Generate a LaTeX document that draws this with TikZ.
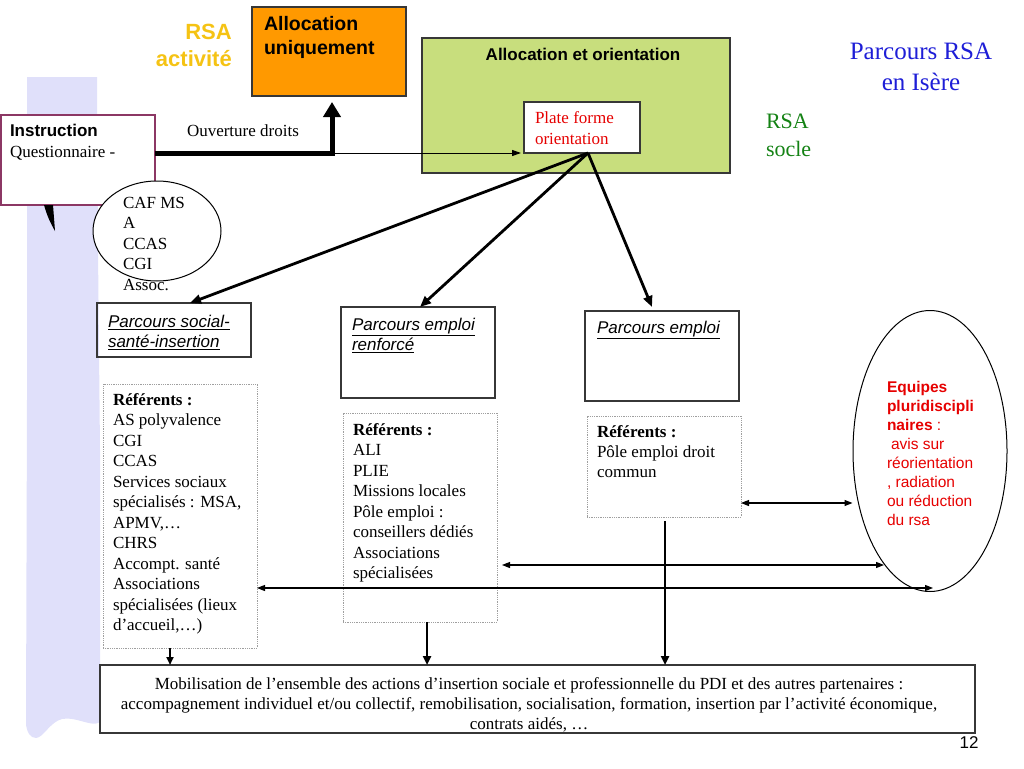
\documentclass[tikz,border=0pt]{standalone}
\usepackage{fontspec}
\setmainfont{Liberation Serif}
\newfontfamily\arial{Liberation Sans}
\usetikzlibrary{shapes.geometric,arrows.meta,calc}
\definecolor{lav}{RGB}{224,224,250}
\definecolor{instrc}{RGB}{140,55,100}
\definecolor{orangef}{RGB}{255,153,0}
\definecolor{greenf}{RGB}{200,222,125}
\definecolor{goldt}{RGB}{245,195,20}
\definecolor{greent}{RGB}{20,130,20}
\definecolor{bluet}{RGB}{30,30,215}
\definecolor{redt}{RGB}{230,0,0}
\definecolor{edge}{RGB}{55,55,55}
\newcommand\fsz[2]{\fontsize{#1}{#2}\selectfont}
\begin{document}
\begin{tikzpicture}[x=1pt,y=-1pt,
  box/.style={draw=edge, line width=1.2pt, inner sep=0pt, outer sep=0pt, anchor=north west},
  dotbox/.style={draw=gray!75, dash pattern=on 0.9pt off 0.9pt, line width=0.8pt, inner sep=0pt, outer sep=0pt, anchor=north west},
  txt/.style={inner sep=0pt, outer sep=0pt, anchor=north west, align=left},
  fat/.style={line width=2.8pt, -{Triangle[length=11pt,width=9pt]}},
  dbl/.style={line width=1.1pt, {Triangle[length=8pt,width=6pt]}-{Triangle[length=8pt,width=6pt]}}]
\useasboundingbox (0,0) rectangle (1024,768);
% lavender strip
\fill[lav] (27,77) -- (97,77) -- (98,250) -- (100,450) -- (100,722)
  .. controls (92,728) and (76,716) .. (62,719)
  .. controls (50,722) and (43,738) .. (36,738)
  .. controls (30,738) and (27,732) .. (26,725) -- (27,400) -- cycle;
% top boxes
\node[box, fill=orangef, minimum width=154pt, minimum height=89pt] (alloc) at (252,7) {};
\node[txt, font=\arial\bfseries\fsz{19.5}{24}] (alloct) at (264,16.5) {Allocation\\uniquement};
\node[box, fill=greenf, minimum width=308pt, minimum height=135pt] (green) at (422,38) {};
\node[inner sep=0pt, anchor=north, font=\arial\bfseries\fsz{17}{20}] (greent) at (583,48) {Allocation et orientation};
\node[box, fill=white, minimum width=116pt, minimum height=51pt] (plate) at (524,102) {};
\node[txt, text=redt, font=\fsz{17}{21}] (platet) at (535,112) {Plate forme\\orientation};
\node[inner sep=0pt, anchor=north east, align=right, text=goldt, font=\arial\bfseries\fsz{22}{27}] (rsaact) at (232,24) {RSA\\activité};
\node[txt, text=greent, font=\fsz{22}{28}] (rsasocle) at (766,114) {RSA\\socle};
\node[inner sep=0pt, anchor=north, align=center, text=bluet, font=\fsz{25}{31}] (title) at (921,43) {Parcours RSA\\en Isère};
% instruction
\node[box, draw=instrc, line width=2pt, fill=white, minimum width=154pt, minimum height=90pt] (instr) at (1,115) {};
\fill[black] (44,205) .. controls (47,216) and (51,224) .. (55,231) -- (53,205) -- cycle;
\node[txt, font=\fsz{17}{21}] (instrt) at (10,124.5) {{\arial\bfseries Instruction}\\Questionnaire -};
\node[txt, font=\fsz{17}{20}] (ouv) at (187,125) {Ouverture droits};
\node[draw=black, line width=1pt, fill=white, ellipse, inner sep=0pt, minimum width=128pt, minimum height=100pt] (caf) at (157,231) {};
\node[txt, font=\fsz{17}{20.5}] (caft) at (123,197) {CAF MS\\A\\CCAS\\CGI\\Assoc.};
% parcours boxes
\node[box, minimum width=154pt, minimum height=54pt] (social) at (97,303) {};
\node[txt, font=\arial\itshape\fsz{17}{20}] (socialt) at (108,315) {\underline{Parcours social-}\\\underline{santé-insertion}};
\node[box, minimum width=154pt, minimum height=91pt] (renf) at (341,307) {};
\node[txt, font=\arial\itshape\fsz{17}{20}] (renft) at (352,318) {\underline{Parcours emploi}\\\underline{renforcé}};
\node[box, minimum width=154pt, minimum height=90pt] (empl) at (585,311) {};
\node[txt, font=\arial\itshape\fsz{17}{20}] (emplt) at (597,321) {\underline{Parcours emploi}};
% referents
\node[dotbox, minimum width=154pt, minimum height=264pt] (refL) at (103,384) {};
\node[txt, font=\fsz{17}{20.5}] (refLt) at (113,393.5) {\textbf{Référents :}\\AS polyvalence\\CGI\\CCAS\\Services sociaux\\spécialisés : MSA,\\APMV,…\\CHRS\\Accompt. santé\\Associations\\spécialisées (lieux\\d’accueil,…)};
\node[dotbox, minimum width=154pt, minimum height=209pt] (refM) at (343,413) {};
\node[txt, font=\fsz{17}{20.5}] (refMt) at (353,423.5) {\textbf{Référents :}\\ALI\\PLIE\\Missions locales\\Pôle emploi :\\conseillers dédiés\\Associations\\spécialisées};
\node[dotbox, minimum width=154pt, minimum height=101pt] (refR) at (587,416) {};
\node[txt, font=\fsz{17}{20}] (refRt) at (597,425.5) {\textbf{Référents :}\\Pôle emploi droit\\commun};
% equipes
\node[draw=black, line width=1pt, ellipse, inner sep=0pt, minimum width=154pt, minimum height=281pt] (eq) at (930,451) {};
\node[txt, text=redt, font=\arial\fsz{15.5}{19}] (eqt) at (887,381.5) {\textbf{Equipes}\\\textbf{pluridiscipli}\\\textbf{naires} :\\\hspace*{4pt}avis sur\\réorientation\\, radiation\\ou réduction\\du rsa};
% mobilisation
\node[box, minimum width=875pt, minimum height=68pt] (mob) at (100,665) {};
\node[inner sep=0pt, anchor=north, align=center, font=\fsz{17}{20}] (mobt) at (529,677.5) {Mobilisation de l’ensemble des actions d’insertion sociale et professionnelle du PDI et des autres partenaires :\\accompagnement individuel et/ou collectif, remobilisation, socialisation, formation, insertion par l’activité économique,\\contrats aidés, …};
\node[inner sep=0pt, anchor=north, font=\arial\fsz{17}{20}] (pnum) at (969,736) {12};
% connectors
\coordinate (istart) at ($(instr.north east)+(0,38)$);
\coordinate (turn) at (332,153);
\coordinate (atip) at ($(alloc.south)+(3,6)$);
\draw[line width=5pt, line join=miter, -{Triangle[length=15pt,width=17pt]}] (istart) -- (turn) -- (atip);
\draw[line width=1pt, -{Triangle[length=9pt,width=6pt]}] (turn) -- ($(plate.south west)+(-3,0)$);
\coordinate (po) at ($(plate.south)+(6,0)$);
\draw[fat] (po) -- ($(social.north west)+(93,0)$);
\draw[fat] (po) -- ($(renf.north west)+(79,0)$);
\draw[fat] (po) -- ($(empl.north west)+(67,-4)$);
\draw[dbl] (refR.east |- 0,503) -- (eq.west |- 0,503);
\draw[dbl] ($(refM.east |- 0,565)+(5,0)$) -- ($(eq.center)+(-46,114)$);
\draw[dbl] (refL.east |- 0,588) -- ($(eq.south)+(3,-4)$);
\draw[line width=2pt, -{Triangle[length=8pt,width=7pt]}] (refL.south -| 170,0) -- (mob.north -| 170,0);
\draw[line width=2.8pt, -{Triangle[length=9pt,width=8pt]}] (refM.south -| 427,0) -- (mob.north -| 427,0);
\draw[line width=2.8pt, -{Triangle[length=9pt,width=8pt]}] ($(refR.south -| 665,0)+(0,4)$) -- (mob.north -| 665,0);
\end{tikzpicture}
\end{document}
